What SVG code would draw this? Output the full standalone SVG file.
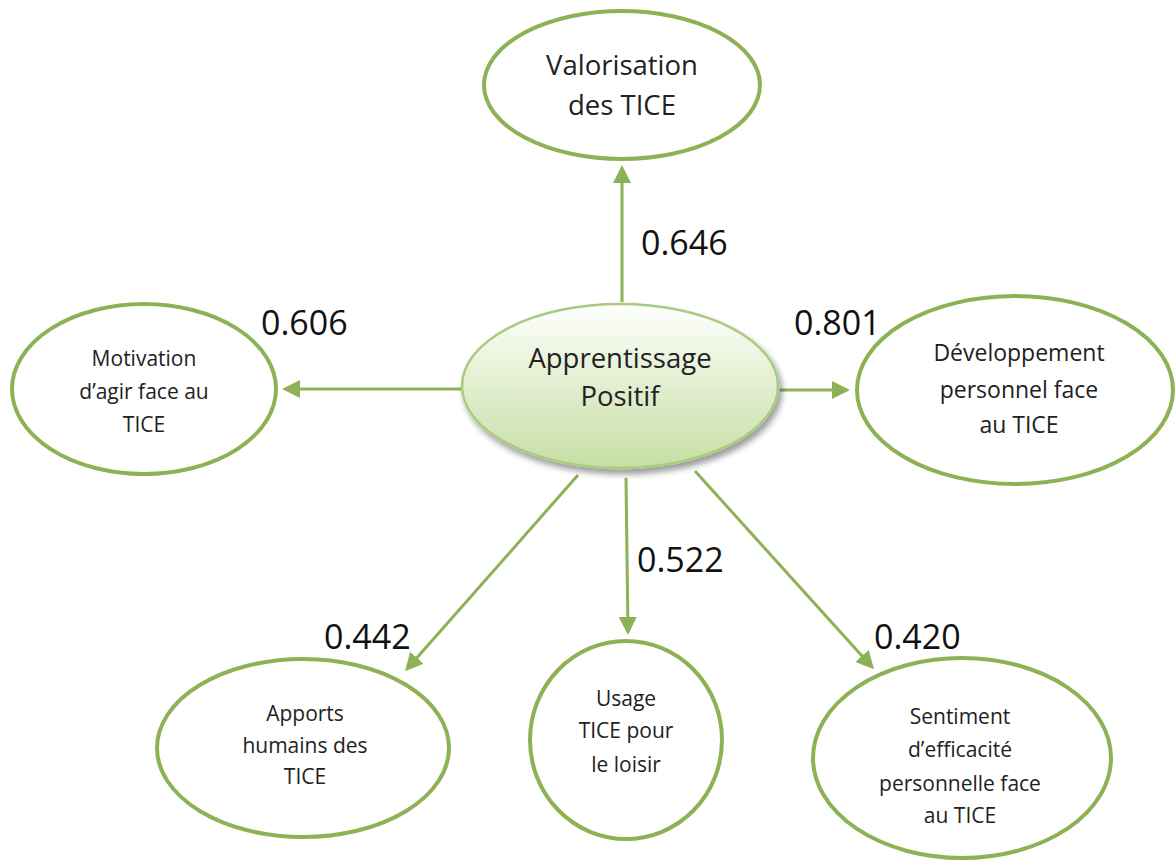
<svg xmlns="http://www.w3.org/2000/svg" width="1176" height="861" viewBox="0 0 1176 861">
<style>
.node{fill:#fff;stroke:#8db255;stroke-width:4}
.t{font-family:"Open Sans","Liberation Sans",sans-serif;fill:#222;text-anchor:middle}
.big{font-size:27.5px}
.sm{font-size:21px}
.lbl{font-family:"Open Sans","Liberation Sans",sans-serif;font-size:34px;fill:#111}
.edge{stroke:#8db255;stroke-width:3;fill:none;marker-end:url(#ah)}
</style>
<defs>
<marker id="ah" markerWidth="6" markerHeight="6" refX="5" refY="3" orient="auto" markerUnits="strokeWidth">
<path d="M0,0 L6,3 L0,6 Z" fill="#8db255"/>
</marker>
<linearGradient id="cg" x1="0" y1="0" x2="0" y2="1">
<stop offset="0" stop-color="#ffffff"/>
<stop offset="0.35" stop-color="#eaf3dc"/>
<stop offset="1" stop-color="#c6dea4"/>
</linearGradient>
<filter id="sh" x="-10%" y="-10%" width="125%" height="130%">
<feGaussianBlur in="SourceAlpha" stdDeviation="3"/>
<feOffset dx="3" dy="5" result="b"/>
<feComponentTransfer><feFuncA type="linear" slope="0.4"/></feComponentTransfer>
<feMerge><feMergeNode/><feMergeNode in="SourceGraphic"/></feMerge>
</filter>
</defs>
<g id="connectors">
<line class="edge" x1="622" y1="302" x2="622" y2="168"/>
<line class="edge" x1="461" y1="389" x2="285" y2="389"/>
<line class="edge" x1="780" y1="390" x2="847" y2="390"/>
<line class="edge" x1="578" y1="475" x2="407" y2="669"/>
<line class="edge" x1="626" y1="478" x2="628" y2="632"/>
<line class="edge" x1="695" y1="471" x2="872" y2="667"/>
</g>
<g id="labels">
<text class="lbl" x="641" y="255">0.646</text>
<text class="lbl" x="261" y="335">0.606</text>
<text class="lbl" x="794" y="335">0.801</text>
<text class="lbl" x="637" y="572">0.522</text>
<text class="lbl" x="324" y="649">0.442</text>
<text class="lbl" x="874" y="649">0.420</text>
</g>
<g id="center">
<ellipse cx="620" cy="386" rx="158" ry="82" fill="url(#cg)" stroke="#a9cb7f" stroke-width="2.5" filter="url(#sh)"/>
<text class="t big" x="620" y="368">Apprentissage</text>
<text class="t big" x="620" y="406">Positif</text>
</g>
<g id="valorisation">
<ellipse class="node" cx="622" cy="85" rx="138" ry="74"/>
<text class="t big" x="622" y="75">Valorisation</text>
<text class="t big" x="622" y="115">des TICE</text>
</g>
<g id="motivation">
<ellipse class="node" cx="144" cy="389" rx="132" ry="85"/>
<text class="t sm" x="144" y="366">Motivation</text>
<text class="t sm" x="144" y="399">d’agir face au</text>
<text class="t sm" x="144" y="432">TICE</text>
</g>
<g id="developpement">
<ellipse class="node" cx="1015" cy="390" rx="158" ry="94"/>
<text class="t sm" x="1019" y="361" style="font-size:23px">Développement</text>
<text class="t sm" x="1019" y="398" style="font-size:23px">personnel face</text>
<text class="t sm" x="1019" y="433" style="font-size:23px">au TICE</text>
</g>
<g id="apports">
<ellipse class="node" cx="303" cy="748" rx="146" ry="89"/>
<text class="t sm" x="305" y="721">Apports</text>
<text class="t sm" x="305" y="753">humains des</text>
<text class="t sm" x="305" y="784">TICE</text>
</g>
<g id="usage">
<ellipse class="node" cx="626" cy="740" rx="96" ry="99"/>
<text class="t sm" x="626" y="706">Usage</text>
<text class="t sm" x="626" y="738">TICE pour</text>
<text class="t sm" x="626" y="772">le loisir</text>
</g>
<g id="sentiment">
<ellipse class="node" cx="962" cy="758" rx="149" ry="100"/>
<text class="t sm" x="960" y="724">Sentiment</text>
<text class="t sm" x="960" y="757">d’efficacité</text>
<text class="t sm" x="960" y="791">personnelle face</text>
<text class="t sm" x="960" y="823">au TICE</text>
</g>
</svg>
